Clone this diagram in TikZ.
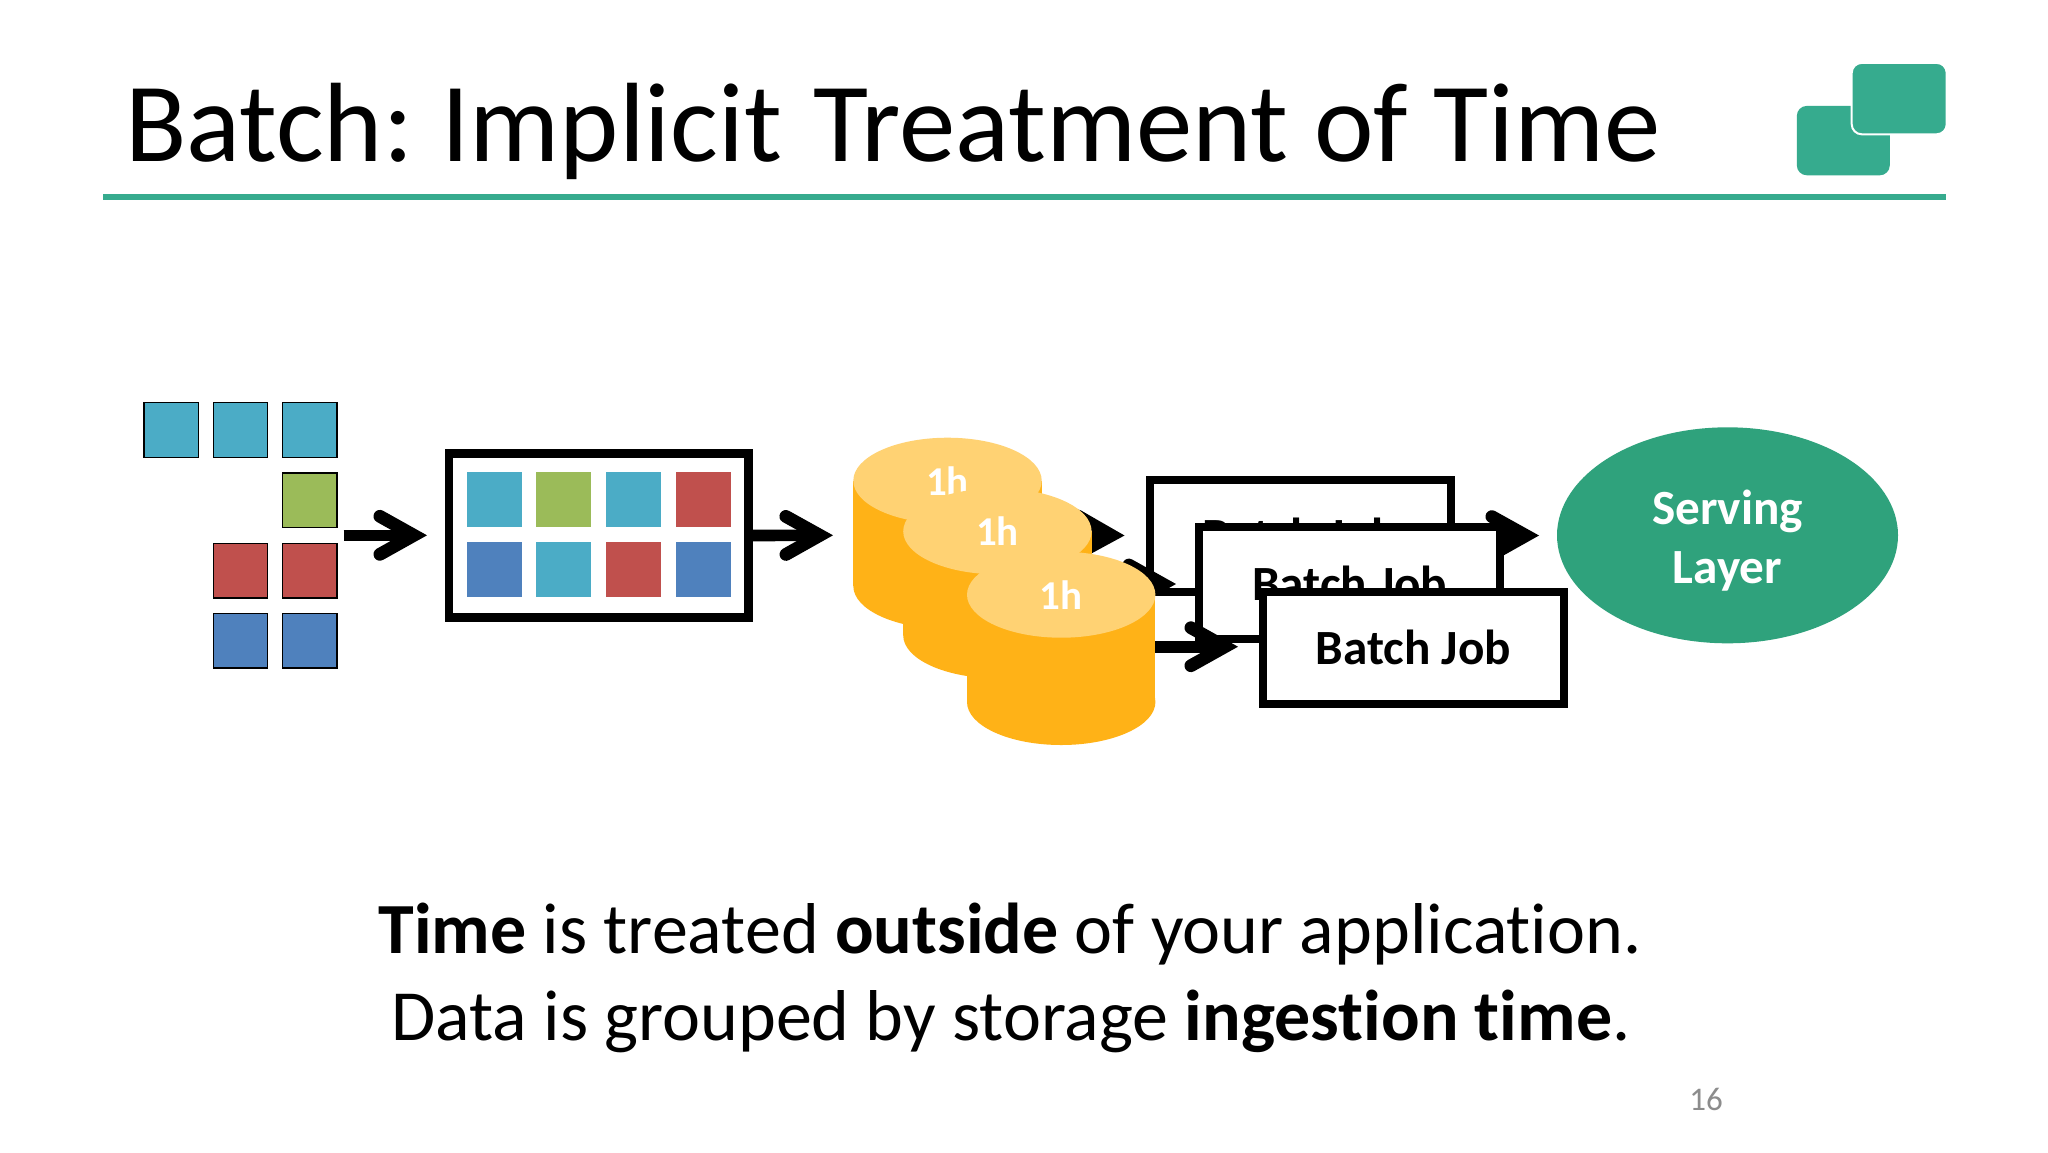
\documentclass[tikz,border=0pt]{standalone}
\usepackage{fontspec}
\setmainfont[RawFeature={-liga;-clig;-dlig}]{Carlito}
\usetikzlibrary{arrows.meta,shapes.geometric}
\definecolor{brand}{HTML}{36AB8E}
\definecolor{servefill}{HTML}{2FA27C}
\definecolor{teal1}{HTML}{4BACC6}
\definecolor{green1}{HTML}{9BBB59}
\definecolor{red1}{HTML}{C0504D}
\definecolor{blue1}{HTML}{4F81BD}
\definecolor{cylside}{HTML}{FFB217}
\definecolor{cyltop}{HTML}{FFD273}
\definecolor{pagegray}{HTML}{8C8C8C}
\tikzset{
  x=0.5pt,y=-0.5pt,
  sq/.style={rectangle,minimum width=27.5pt,minimum height=27.5pt,inner sep=0pt,outer sep=0pt},
  srcsq/.style={sq,draw=black,line width=0.6pt,minimum width=27.2pt,minimum height=27.2pt},
  bufbox/.style={rectangle,draw=black,line width=4.2pt,fill=white,minimum width=149.7pt,minimum height=82pt,inner sep=0pt,outer sep=0pt},
  jobbox/.style={rectangle,draw=black,line width=4pt,fill=white,minimum width=150.5pt,minimum height=56pt,inner sep=0pt,outer sep=0pt,font=\bfseries\fontsize{24.6}{28}\selectfont},
  cbody/.style={rectangle,fill=cylside,minimum width=94.2pt,inner sep=0pt,outer sep=0pt},
  cend/.style={ellipse,fill=cylside,minimum width=94.2pt,minimum height=43pt,inner sep=0pt,outer sep=0pt},
  ctop/.style={ellipse,fill=cyltop,minimum width=94.2pt,minimum height=43pt,inner sep=0pt,outer sep=0pt,text=white,font=\bfseries\fontsize{20.5}{24}\selectfont},
  flow/.style={line width=5.8pt,-{Straight Barb[length=17pt,width=19pt,line width=6.4pt,line cap=round,line join=miter]}},
  logobox/.style={rectangle,rounded corners=5pt,fill=brand,minimum width=46.5pt,minimum height=34.7pt,inner sep=0pt,outer sep=0pt},
}
\begin{document}
\begin{tikzpicture}
\useasboundingbox (0,0) rectangle (2048,1152);
\fill[white] (0,0) rectangle (2048,1152);
% title
\node[anchor=base west,inner sep=0pt,font=\fontsize{56.4}{66}\selectfont] (title) at (125,161) {Batch:\kern-3pt{} Implicit\kern3pt{} Treatment of Time};
\coordinate (ruleL) at (103,197);
\coordinate (ruleR) at (1946,197);
\draw[brand,line width=3pt] (ruleL) -- (ruleR);
\node[logobox] (logoA) at (1843.3,140.6) {};
\node[logobox,draw=white,line width=1pt,minimum width=47.5pt,minimum height=35.7pt] (logoB) at (1899.2,98.6) {};
% source squares
\node[srcsq,fill=teal1] (s1) at (171.2,430) {};
\node[srcsq,fill=teal1] (s2) at (240.4,430) {};
\node[srcsq,fill=teal1] (s3) at (309.8,430) {};
\node[srcsq,fill=green1] (s4) at (309.8,500.2) {};
\node[srcsq,fill=red1] (s5) at (240.4,570.8) {};
\node[srcsq,fill=red1] (s6) at (309.8,570.8) {};
\node[srcsq,fill=blue1] (s7) at (240.4,640.8) {};
\node[srcsq,fill=blue1] (s8) at (309.8,640.8) {};
% buffer
\node[bufbox] (buf) at (598.8,535.5) {};
\node[sq,fill=teal1] (b1) at (494,499) {};
\node[sq,fill=green1] (b2) at (563.7,499) {};
\node[sq,fill=teal1] (b3) at (633.5,499) {};
\node[sq,fill=red1] (b4) at (703.5,499) {};
\node[sq,fill=blue1] (b5) at (494,569.7) {};
\node[sq,fill=teal1] (b6) at (563.7,569.7) {};
\node[sq,fill=red1] (b7) at (633.5,569.7) {};
\node[sq,fill=blue1] (b8) at (703.5,569.7) {};
% arrows
\coordinate (a1s) at (343.7,535.3);
\coordinate (a1t) at (427,535.3);
\draw[flow] (a1s) -- (a1t);
\coordinate (a2t) at (833,535.3);
\draw[flow] (buf.east) -- (a2t);
\coordinate (a3t) at (1124.5,535.5);
\coordinate (a4t) at (1176,584);
\coordinate (a5t) at (1238,646.7);
\coordinate (a6t) at (1539,535.5);
% cylinders
\node[cbody,minimum height=52.6pt] (c1b) at (947.5,533.3) {};
\draw[flow] (c1b.center) -- (a3t);
\node[cend] (c1e) at (947.5,586) {};
\node[cbody,minimum height=52.6pt] (c1f) at (947.5,533.3) {};
\node[ctop] (c1t) at (947.5,480.7) {1h};
\node[cend] (c2e) at (997.4,635.3) {};
\node[cbody,minimum height=52pt] (c2b) at (997.4,583.3) {};
\node[ctop] (c2t) at (997.4,531.3) {1h};
% batch jobs and remaining arrows
\node[jobbox] (j1) at (1300,535.7) {Batch Job};
\draw[flow] (j1.east) -- (a6t);
\draw[flow] (c2b.center |- a4t) -- (a4t);
\node[jobbox] (j2) at (1349.8,583.3) {Batch Job};
\node[cbody,minimum height=53.6pt] (c3b) at (1061.2,648.4) {};
\draw[flow] (c3b.center |- a5t) -- (a5t);
\node[cend] (c3e) at (1061.2,702) {};
\node[cbody,minimum height=53.6pt] (c3f) at (1061.2,648.4) {};
\node[ctop] (c3t) at (1061.2,594.7) {1h};
\node[jobbox] (j3) at (1413.5,647.5) {Batch Job};
% serving layer
\node[ellipse,fill=servefill,minimum width=170.5pt,minimum height=108pt,inner sep=0pt,outer sep=0pt] (serve) at (1727.5,535.3) {};
\node[text=white,align=center,inner sep=0pt,font=\bfseries\fontsize{24.6}{29.5}\selectfont] (serveLabel) at (1727.5,540.5) {Serving\\Layer};
% caption
\node[anchor=base,inner sep=0pt,font=\fontsize{36}{42}\selectfont] (cap1) at (1010,953) {\textbf{Time} is treated \textbf{outside} of your application.};
\node[anchor=base,inner sep=0pt,font=\fontsize{36}{42}\selectfont] (cap2) at (1011,1040) {Data is grouped by storage \textbf{ingestion time}.};
\node[anchor=base,inner sep=0pt,text=pagegray,font=\fontsize{16.5}{20}\selectfont] (page) at (1706,1110) {16};
\end{tikzpicture}
\end{document}
